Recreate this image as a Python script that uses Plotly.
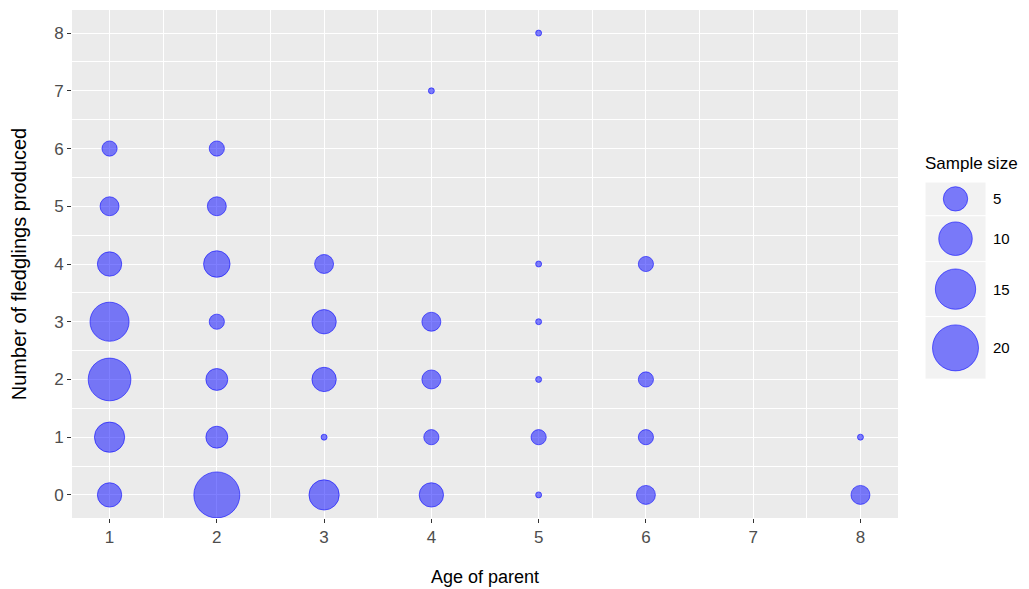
import numpy as np
import plotly.graph_objects as go

# ---- data ----
age = [1, 1, 1, 1, 1, 1, 1,
       2, 2, 2, 2, 2, 2, 2,
       3, 3, 3, 3, 3,
       4, 4, 4, 4, 4,
       5, 5, 5, 5, 5, 5,
       6, 6, 6, 6,
       8, 8]
fledglings = [0, 1, 2, 3, 4, 5, 6,
              0, 1, 2, 3, 4, 5, 6,
              0, 1, 2, 3, 4,
              0, 1, 2, 3, 7,
              0, 1, 2, 3, 4, 8,
              0, 1, 2, 4,
              0, 1]
sample_size = [5, 8, 17, 14, 5, 3, 2,
               20, 4, 4, 2, 6, 3, 2,
               8, 1, 5, 5, 3,
               5, 2, 3, 3, 1,
               1, 2, 1, 1, 1, 1,
               3, 2, 2, 2,
               3, 1]
x_ticks = [1, 2, 3, 4, 5, 6, 7, 8]
y_ticks = [0, 1, 2, 3, 4, 5, 6, 7, 8]
legend_values = [5, 10, 15, 20]

# ---- size scale (area-like, as ggplot scale_size) ----
n_min, n_max = min(sample_size), max(sample_size)
D_MIN, D_MAX = 7.0, 47.0


def diam(n):
    n = np.asarray(n, dtype=float)
    return D_MIN + (D_MAX - D_MIN) * np.sqrt((n - n_min) / (n_max - n_min))


FILL = "rgba(0,0,255,0.5)"
EDGE = "rgba(0,0,255,0.55)"
FONT = "Liberation Sans, Arial, sans-serif"

OFF = 8  # page body margin
W, H = 1029 - OFF, 589 - OFF


def px(v):
    return v - OFF


L, T = px(72), px(10)
B = H - px(518)
R = W - px(990)
pw = W - L - R
ph = H - T - B
x_dom1 = (px(898) - L) / pw

fig = go.Figure()
fig.add_trace(go.Scatter(
    x=age, y=fledglings, mode="markers",
    marker=dict(size=diam(sample_size) - 1, sizemode="diameter", color=FILL,
                opacity=1, line=dict(color=EDGE, width=1)),
    hoverinfo="skip", showlegend=False))

# ---- manual size legend ----
d_leg = diam(legend_values)
key_h = np.maximum(32.0, d_leg * 1.33)
cum = np.concatenate([[0], np.cumsum(key_h)])
centers = (cum[:-1] + cum[1:]) / 2
total = cum[-1]
y2_top = (H - B - px(182)) / ph
y2_bot = y2_top - total / ph
x2_dom = [(px(925) - L) / pw, (px(986) - L) / pw]

fig.add_trace(go.Scatter(
    x=[0.5] * len(legend_values), y=centers, mode="markers",
    marker=dict(size=d_leg - 1, sizemode="diameter", color=FILL, opacity=1,
                line=dict(color=EDGE, width=1)),
    xaxis="x2", yaxis="y2", hoverinfo="skip", showlegend=False))

shapes = [dict(type="rect", xref="x domain", yref="y domain", x0=0, x1=1, y0=0, y1=1,
               fillcolor="#EBEBEB", line=dict(width=0), layer="below")]
for i in range(len(legend_values)):
    shapes.append(dict(type="rect", xref="x2", yref="y2", x0=0, x1=1,
                       y0=cum[i], y1=cum[i + 1], fillcolor="#F2F2F2",
                       line=dict(color="white", width=1), layer="below"))

annotations = [dict(text="Sample size", xref="paper", yref="paper",
                    x=(px(923) - L) / pw, y=(H - B - px(163)) / ph,
                    xanchor="left", yanchor="middle", showarrow=False,
                    font=dict(family=FONT, size=17, color="black"))]
for v, c in zip(legend_values, centers):
    annotations.append(dict(text=str(v), xref="paper", yref="y2",
                            x=(px(991) - L) / pw, y=c, xanchor="left", yanchor="middle",
                            showarrow=False, font=dict(family=FONT, size=15, color="black")))

axis_common = dict(showline=False, zeroline=False, gridcolor="white", gridwidth=1.3,
                   ticks="outside", ticklen=4, tickwidth=1, tickcolor="#333333",
                   automargin=False,
                   tickfont=dict(family=FONT, size=17, color="#4D4D4D"))

fig.update_layout(
    width=W, height=H,
    margin=dict(l=L, r=R, t=T, b=B),
    paper_bgcolor="white", plot_bgcolor="white",
    font=dict(family=FONT),
    xaxis=dict(domain=[0, x_dom1], range=[0.65, 8.35], tickvals=x_ticks,
               title=dict(text="Age of parent", standoff=23,
                          font=dict(family=FONT, size=18, color="black")),
               minor=dict(tick0=0.5, dtick=1, showgrid=True, gridcolor="white",
                          gridwidth=0.6, ticks=""),
               **axis_common),
    yaxis=dict(range=[-0.4, 8.4], tickvals=y_ticks,
               title=dict(text="Number of fledglings produced", standoff=30,
                          font=dict(family=FONT, size=20, color="black")),
               minor=dict(tick0=0.5, dtick=1, showgrid=True, gridcolor="white",
                          gridwidth=0.6, ticks=""),
               **axis_common),
    xaxis2=dict(domain=x2_dom, range=[0, 1], visible=False, anchor="y2"),
    yaxis2=dict(domain=[y2_bot, y2_top], range=[total, 0], visible=False, anchor="x2"),
    shapes=shapes,
    annotations=annotations,
)

fig.write_html("out.html")
